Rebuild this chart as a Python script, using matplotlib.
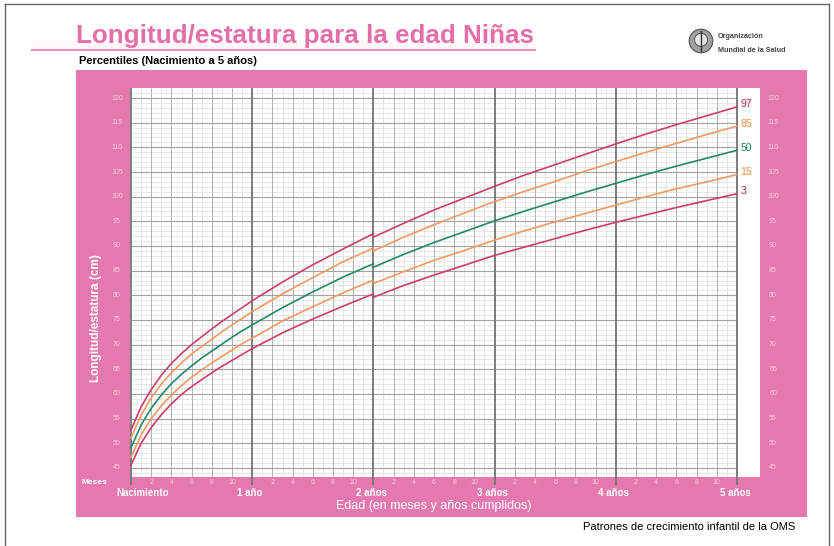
import matplotlib.pyplot as plt
import numpy as np
import matplotlib.transforms as mtransforms
from matplotlib.patches import Rectangle, Circle
from matplotlib.lines import Line2D

plt.rcParams['font.family'] = ['Liberation Sans', 'DejaVu Sans']

# length for age, birth to 2 years (lying down)
meses_a = [0, 1, 2, 3, 4, 5, 6, 7, 8, 9, 10, 11, 12, 15, 18, 21, 24]
p3_a = [45.6, 50.0, 53.2, 55.8, 58.0, 59.9, 61.5, 62.9, 64.3, 65.6, 66.8, 68.0, 69.2, 72.4, 75.2, 77.8, 80.3]
p15_a = [47.2, 51.7, 55.0, 57.6, 59.8, 61.7, 63.4, 64.9, 66.3, 67.6, 68.9, 70.2, 71.3, 74.8, 77.7, 80.5, 83.1]
p50_a = [49.1, 53.7, 57.1, 59.8, 62.1, 64.0, 65.7, 67.3, 68.7, 70.1, 71.5, 72.8, 74.0, 77.5, 80.7, 83.7, 86.4]
p85_a = [51.1, 55.7, 59.2, 62.0, 64.3, 66.3, 68.1, 69.6, 71.1, 72.6, 74.0, 75.3, 76.7, 80.3, 83.6, 86.8, 89.6]
p97_a = [52.7, 57.4, 60.9, 63.8, 66.2, 68.2, 70.0, 71.6, 73.2, 74.7, 76.1, 77.5, 78.9, 82.7, 86.2, 89.4, 92.5]

# height for age, 2 to 5 years (standing)
meses_b = [24, 27, 30, 33, 36, 39, 42, 45, 48, 51, 54, 57, 60]
p3_b = [79.6, 82.0, 84.1, 86.1, 88.1, 89.8, 91.5, 93.2, 94.8, 96.3, 97.8, 99.2, 100.6]
p15_b = [82.4, 84.8, 87.1, 89.1, 91.2, 93.1, 94.9, 96.6, 98.3, 100.0, 101.6, 103.0, 104.5]
p50_b = [85.7, 88.3, 90.7, 92.9, 95.1, 97.1, 99.0, 100.9, 102.7, 104.5, 106.2, 107.8, 109.4]
p85_b = [89.0, 91.8, 94.3, 96.7, 99.0, 101.1, 103.1, 105.2, 107.1, 109.0, 110.8, 112.6, 114.3]
p97_b = [91.8, 94.6, 97.3, 99.7, 102.1, 104.4, 106.5, 108.6, 110.7, 112.7, 114.6, 116.4, 118.2]

percentiles = ['97', '85', '50', '15', '3']
series_a = [p97_a, p85_a, p50_a, p15_a, p3_a]
series_b = [p97_b, p85_b, p50_b, p15_b, p3_b]
colores = ['#cc3d6c', '#f29a62', '#23876a', '#f29a62', '#cc3d6c']
colores_txt = ['#b8234a', '#f08a40', '#1f7d60', '#f08a40', '#b8234a']

anios = ['Nacimiento', '1 año', '2 años', '3 años', '4 años', '5 años']
meses_lbl = ['2', '4', '6', '8', '10']
cm_ticks = list(range(45, 121, 5))

PINK = '#e579af'
TITLE_PINK = '#e46fa8'
LIGHT = '#f8cde1'

W, H = 834, 546
def fx(px):
    return px / W
def fy(py):
    return 1 - py / H

fig = plt.figure(figsize=(8.34, 5.46), dpi=100)
fig.patch.set_facecolor('white')

# outer frame
for xs, ys in [([4.5, 4.5], [3.5, 546]), ([4.5, 828.5], [3.5, 3.5]), ([828.5, 828.5], [3.5, 546])]:
    fig.add_artist(Line2D([fx(x) for x in xs], [fy(y) for y in ys], color='#666666', lw=1))

# pink panel
fig.add_artist(Rectangle((fx(76), fy(517)), (807 - 76) / W, (517 - 69.5) / H,
                         facecolor=PINK, edgecolor='none', zorder=-1))

# title with underline
fig.add_artist(Rectangle((fx(32), fy(49.5)), (535 - 32) / W, 9 / H,
                         facecolor='#fdf7fa', edgecolor='none', zorder=-1))
fig.add_artist(Line2D([fx(32), fx(535)], [fy(50), fy(50)], color='#ec8fbd', lw=1.5))
fig.text(fx(76), fy(43), 'Longitud/estatura para la edad Niñas', color=TITLE_PINK,
         fontsize=18.7, fontweight='bold', va='baseline', ha='left')
fig.text(fx(79), fy(61), 'Percentiles (Nacimiento a 5 años)', color='black',
         fontsize=8, fontweight='bold', va='center', ha='left')

# logo
logo = fig.add_axes([fx(688), fy(54), 26 / W, 26 / H])
logo.set_xlim(-1.1, 1.1)
logo.set_ylim(-1.1, 1.1)
logo.set_aspect('equal')
logo.axis('off')
logo.add_patch(Circle((0, 0), 1.0, facecolor='#a0a0a0', edgecolor='#555555', lw=0.8))
logo.add_patch(Circle((0, 0.1), 0.55, facecolor='#e4e4e4', edgecolor='#444444', lw=0.6))
logo.plot([0, 0], [-0.85, 0.85], color='#333333', lw=1.0)
fig.text(fx(718), fy(37), 'Organización', fontsize=5.2, fontweight='bold',
         color='#444444', va='center', ha='left')
fig.text(fx(718), fy(51), 'Mundial de la Salud', fontsize=5.2, fontweight='bold',
         color='#444444', va='center', ha='left')

# plotting area
ax = fig.add_axes([fx(130), fy(477), 630 / W, 389 / H])
ax.set_facecolor('white')
ax.set_xlim(-0.1, 62.28)
ax.set_ylim(43.17, 122.03)
for s in ax.spines.values():
    s.set_visible(False)
ax.set_xticks([])
ax.set_yticks([])

y0, y1 = 43.17, 122.03
ax.vlines(np.arange(0.5, 60, 1), y0, y1, color='#f1f1f1', lw=0.4, zorder=1)
ax.vlines(np.arange(1, 60, 2), y0, y1, color='#dcdcdc', lw=0.5, zorder=1)
ax.vlines([m for m in range(2, 60, 2) if m % 12], y0, y1, color='#b0b0b0', lw=0.7, zorder=2)
ax.hlines(np.arange(44, 122, 1), 0, 60, color='#dedede', lw=0.5, zorder=1)
ax.hlines(cm_ticks, 0, 60, color='#a2a2a2', lw=0.8, zorder=2)
ax.vlines(range(0, 61, 12), y0 - 1.6, y1, color='#727272', lw=1.3, zorder=3, clip_on=False)

for i, p in enumerate(percentiles):
    ax.plot(meses_a, series_a[i], color=colores[i], lw=1.2, zorder=4)
    ax.plot(meses_b, series_b[i], color=colores[i], lw=1.2, zorder=4)
    ax.text(60.35, series_b[i][-1] + 0.5, p, color=colores_txt[i], fontsize=7.5,
            ha='left', va='center', zorder=5)

# y tick labels on both sides
left_tr = mtransforms.blended_transform_factory(fig.transFigure, ax.transData)
for v in cm_ticks:
    fig.text(fx(117), v, str(v), transform=left_tr, color=LIGHT, fontsize=5,
             ha='center', va='center')
    fig.text(fx(773), v, str(v), transform=left_tr, color=LIGHT, fontsize=5,
             ha='center', va='center')

# month and year labels
bot_tr = mtransforms.blended_transform_factory(ax.transData, fig.transFigure)
for k in range(5):
    for m in meses_lbl:
        fig.text(12 * k + int(m), fy(482), m, transform=bot_tr, color=LIGHT, fontsize=5,
                 ha='center', va='center')
for k, lbl in enumerate(anios):
    xx = 1.15 if k == 0 else 12 * k - 0.2
    fig.text(xx, fy(493), lbl, transform=bot_tr, color='white', fontsize=7,
             fontweight='bold', ha='center', va='center')
fig.text(fx(94), fy(482), 'Meses', color='white', fontsize=6, fontweight='bold',
         ha='center', va='center')

fig.text(fx(434), fy(506), 'Edad (en meses y años cumplidos)', color='white', fontsize=9,
         ha='center', va='center')
fig.text(fx(96), fy(318), 'Longitud/estatura (cm)', color='white', fontsize=8.5,
         fontweight='bold', rotation=90, ha='center', va='center')
fig.text(fx(795), fy(527), 'Patrones de crecimiento infantil de la OMS', color='black',
         fontsize=8, ha='right', va='center')

fig.savefig('out.png', dpi=100)
